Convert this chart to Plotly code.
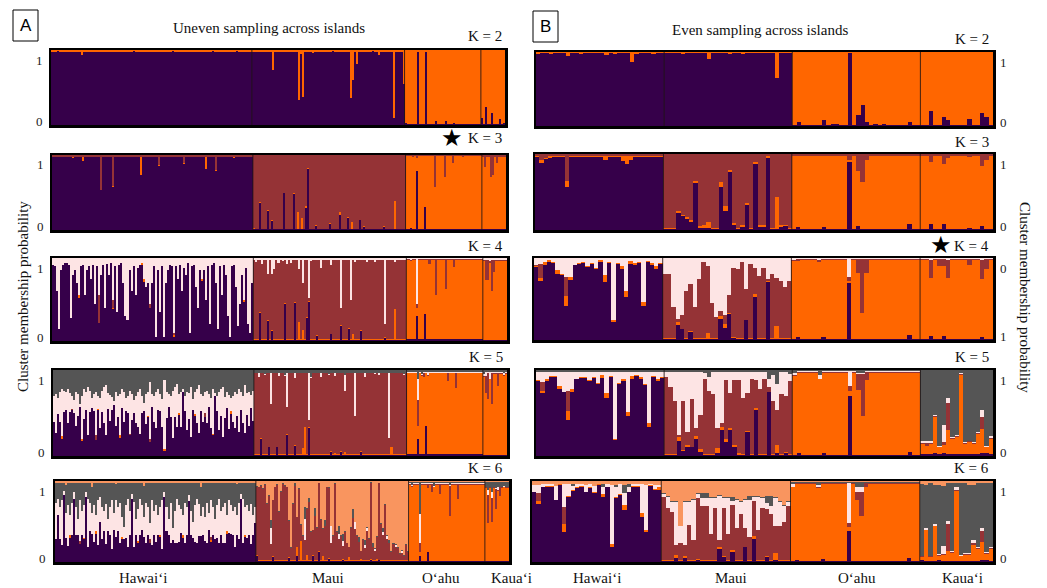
import plotly.graph_objects as go

W, H = 1047, 588

COLORS = {"purple": "#36004A", "orange": "#FF6600", "brown": "#953336",
          "pink": "#FDE4E4", "grey": "#555555", "salmon": "#F9955F"}
STACK_ORDER = ["purple", "orange", "brown", "pink", "grey", "salmon"]

ISLANDS = ["Hawai‘i", "Maui", "O‘ahu", "Kaua‘i"]
A_SIZES = [100, 76, 38, 12]
B_SIZES = [30, 30, 30, 17]

# Each island: (dominant cluster, {cluster: dense list of % | (background %, {individual: %})})
# ---------------- A: uneven sampling ----------------
A_K2 = [
    ("purple", {"orange": (2, {3: 1, 15: 7, 22: 3, 30: 3, 41: 1, 44: 3, 56: 3, 60: 1, 71: 3, 80: 1, 92: 1})}),
    ("purple", {"orange": (2, {10: 27, 23: 66, 24: 5, 25: 63, 30: 4, 40: 1, 45: 3, 49: 64, 50: 40, 52: 19,
                               60: 1, 63: 6, 70: 91, 75: 45})}),
    ("orange", {"purple": (2, {0: 3, 1: 2, 6: 97, 10: 98, 15: 6, 20: 5, 24: 3, 30: 2, 35: 2})}),
    ("orange", {"purple": (2, {0: 10, 2: 24, 5: 16, 9: 8, 11: 3})}),
]
A_K3 = [
    ("purple", {"orange": (1, {15: 6, 44: 24, 76: 16, 65: 2}),
                "brown": (2, {24: 46, 30: 41, 53: 13, 81: 20, 65: 10, 10: 3, 90: 3})}),
    ("brown", {"purple": (1, {0: 2, 3: 36, 7: 26, 9: 12, 15: 49, 20: 48, 26: 29, 27: 82, 31: 6, 38: 8, 43: 20,
                              47: 16, 53: 13, 55: 4, 65: 4}),
               "orange": (1, {22: 23, 24: 15, 26: 3, 43: 4, 49: 10, 70: 38})}),
    ("orange", {"purple": (2, {2: 3, 5: 79, 9: 31}),
                "brown": (1, {3: 3, 5: 4, 14: 42, 19: 29, 23: 11, 28: 3})}),
    ("orange", {"brown": (2, {1: 16, 4: 29, 5: 27, 7: 10}), "purple": (1, {})}),
]
A_K4_HAWAII_PINK = [8, 10, 40, 85, 15, 8, 6, 6, 8, 72,
                    20, 15, 30, 45, 10, 8, 45, 15, 10, 25,
                    9, 55, 10, 45, 20, 8, 60, 7, 20, 6,
                    50, 10, 65, 8, 6, 30, 70, 75, 15, 40,
                    10, 45, 12, 8, 6, 25, 35, 30, 55, 30,
                    10, 95, 15, 65, 10, 95, 30, 15, 8, 10,
                    90, 10, 25, 8, 40, 12, 20, 6, 90, 10,
                    8, 35, 60, 15, 25, 15, 50, 10, 80, 8,
                    6, 30, 85, 10, 45, 8, 20, 70, 95, 10,
                    8, 35, 82, 55, 20, 50, 12, 80, 90, 30]
A_K4 = [
    ("purple", {"pink": A_K4_HAWAII_PINK,
                "orange": (0, {13: 3, 44: 3, 45: 4, 74: 3, 95: 3, 30: 2, 60: 2}),
                "brown": (0, {23: 33, 30: 10, 48: 5, 60: 3})}),
    ("brown", {"purple": (1, {3: 34, 7: 24, 9: 12, 15: 45, 20: 46, 26: 28, 27: 47, 31: 6, 38: 8, 43: 18, 47: 15,
                              53: 12, 65: 4}),
               "orange": (1, {22: 22, 24: 12, 49: 8, 70: 37}),
               "pink": (2, {1: 5, 4: 7, 7: 19, 9: 19, 10: 13, 12: 6, 14: 4, 16: 7, 18: 6, 22: 13, 24: 30, 27: 48,
                            28: 4, 33: 12, 38: 8, 43: 60, 48: 50, 50: 5, 56: 5, 60: 5, 65: 80, 70: 5})}),
    ("orange", {"purple": (2, {5: 30, 9: 33}),
                "brown": (1, {5: 5, 11: 6, 14: 44, 19: 36, 23: 10}),
                "pink": (1, {2: 3, 5: 55})}),
    ("orange", {"brown": (2, {1: 25, 2: 24, 4: 38, 5: 15}), "pink": (2, {3: 4}), "purple": (1, {})}),
]
A_K5_HAWAII_GREY = [30, 28, 33, 25, 22, 24, 26, 22, 27, 30,
                    35, 25, 28, 40, 30, 22, 26, 20, 24, 32,
                    28, 26, 30, 33, 24, 20, 18, 27, 29, 31,
                    36, 25, 30, 28, 22, 26, 33, 30, 24, 28,
                    35, 30, 26, 22, 30, 38, 28, 25, 14, 28,
                    30, 26, 22, 28, 34, 12, 26, 28, 30, 24,
                    20, 16, 28, 26, 22, 30, 25, 27, 20, 34,
                    26, 22, 18, 28, 30, 25, 24, 28, 33, 22,
                    27, 30, 25, 22, 20, 31, 26, 29, 33, 30,
                    25, 28, 22, 26, 30, 18, 27, 25, 29, 24]
A_K5_HAWAII_PINK = [30, 45, 18, 35, 55, 25, 20, 40, 22, 15,
                    15, 40, 25, 3, 50, 35, 20, 55, 25, 12,
                    20, 50, 15, 35, 25, 42, 58, 18, 30, 15,
                    5, 40, 25, 48, 22, 35, 15, 20, 50, 30,
                    15, 32, 40, 52, 20, 10, 35, 28, 66, 15,
                    30, 42, 25, 20, 32, 80, 30, 15, 25, 55,
                    35, 50, 22, 40, 4, 18, 45, 30, 58, 12,
                    25, 40, 55, 20, 30, 25, 38, 15, 35, 52,
                    3, 18, 45, 32, 58, 25, 18, 40, 15, 30,
                    42, 25, 50, 20, 32, 55, 25, 40, 15, 35]
A_K5 = [
    ("purple", {"grey": A_K5_HAWAII_GREY, "pink": A_K5_HAWAII_PINK,
                "orange": (0, {4: 3, 14: 3, 33: 3, 55: 2, 70: 3, 88: 3, 22: 2, 47: 2, 62: 2, 79: 2}),
                "brown": (0, {21: 5, 48: 4, 75: 5, 9: 2, 38: 2})}),
    ("brown", {"grey": (3, {5: 5, 15: 6, 28: 8, 37: 5, 45: 6, 60: 4, 74: 5}),
               "pink": (1, {2: 5, 8: 37, 12: 4, 16: 40, 20: 6, 27: 55, 33: 5, 40: 4, 45: 18, 50: 51, 55: 5,
                            62: 3, 67: 76}),
               "purple": (1, {3: 20, 7: 10, 11: 10, 16: 25, 20: 12, 27: 33, 38: 5, 43: 5, 53: 5}),
               "orange": (1, {24: 8, 25: 33, 40: 3, 45: 4, 68: 10})}),
    ("orange", {"grey": (2, {5: 10, 7: 5}), "brown": (1, {5: 30, 8: 5, 20: 10, 24: 18}),
                "pink": (1, {5: 25, 10: 4}), "purple": (2, {5: 20, 9: 35})}),
    ("orange", {"brown": (1, {1: 20, 2: 30, 4: 35, 7: 15}), "pink": (2, {1: 5, 3: 8}),
                "grey": (2, {0: 5, 10: 4}), "purple": (1, {})}),
]
A_K6_HAWAII_GREY = [25, 20, 30, 22, 10, 35, 28, 40, 25, 12,
                    30, 45, 22, 35, 28, 12, 20, 25, 32, 28,
                    40, 22, 18, 30, 35, 26, 45, 30, 22, 38,
                    20, 30, 25, 42, 55, 28, 20, 35, 14, 24,
                    45, 32, 20, 28, 38, 25, 30, 50, 22, 35,
                    28, 40, 30, 22, 12, 30, 45, 25, 55, 35,
                    20, 28, 32, 40, 25, 30, 15, 35, 48, 28,
                    20, 26, 35, 30, 42, 25, 38, 22, 30, 45,
                    28, 20, 35, 30, 25, 40, 22, 28, 35, 30,
                    38, 25, 14, 20, 30, 28, 35, 26, 40, 30]
A_K6_HAWAII_PINK = [45, 20, 40, 55, 5, 30, 50, 25, 40, 8,
                    35, 20, 50, 30, 40, 6, 60, 35, 25, 45,
                    20, 55, 30, 40, 25, 50, 15, 35, 60, 20,
                    45, 30, 50, 25, 15, 40, 60, 30, 6, 55,
                    20, 40, 45, 30, 25, 50, 35, 20, 55, 30,
                    45, 25, 35, 60, 6, 30, 20, 50, 15, 40,
                    55, 45, 30, 25, 50, 35, 8, 30, 20, 45,
                    55, 40, 25, 35, 30, 50, 20, 45, 35, 25,
                    40, 55, 30, 45, 50, 20, 40, 35, 30, 50,
                    25, 45, 6, 55, 35, 40, 30, 50, 25, 20]
A_K6_MAUI_BROWN = [84, 90, 92, 88, 93, 70, 80, 20, 69, 90,
                   93, 60, 85, 94, 92, 90, 45, 15, 70, 92,
                   37, 88, 20, 30, 25, 57, 72, 35, 30, 55,
                   40, 84, 50, 34, 42, 90, 86, 22, 30, 94,
                   35, 27, 30, 16, 35, 21, 12, 40, 52, 39,
                   30, 23, 9, 25, 15, 36, 27, 94, 16, 11,
                   27, 94, 45, 31, 68, 26, 21, 10, 20, 16,
                   15, 8, 9, 6, 19, 10]
A_K6 = [
    ("purple", {"grey": A_K6_HAWAII_GREY, "pink": A_K6_HAWAII_PINK,
                "salmon": (2, {5: 5, 18: 8, 30: 4, 44: 6, 58: 3, 72: 8, 90: 4}),
                "orange": (0, {7: 3, 20: 3, 41: 3, 63: 3, 85: 3, 14: 2, 33: 2, 52: 2, 77: 2, 94: 2}),
                "brown": (0, {12: 4, 47: 5, 77: 4})}),
    ("salmon", {"brown": A_K6_MAUI_BROWN,
                "grey": (1, {7: 10, 19: 3, 24: 15, 26: 5, 29: 10, 34: 8, 41: 10, 43: 8, 48: 12, 51: 6, 54: 6,
                             58: 5, 63: 5, 66: 4}),
                "pink": (0, {7: 20, 24: 26, 37: 20, 41: 5, 43: 6, 49: 8, 54: 4, 55: 4, 59: 3, 63: 4, 65: 4,
                             69: 3, 72: 3}),
                "purple": (1, {0: 8, 8: 6, 16: 5, 20: 8, 28: 8, 31: 12, 36: 4, 43: 3, 57: 3, 61: 2}),
                "orange": (1, {20: 10, 22: 25, 25: 8, 33: 6, 46: 5, 52: 3, 60: 3})}),
    ("orange", {"grey": (2, {1: 4, 5: 40, 12: 5, 20: 4}), "pink": (1, {5: 35}),
                "brown": (1, {5: 12, 9: 5, 11: 10, 15: 12, 20: 37, 24: 18}),
                "purple": (1, {5: 8, 9: 12}), "salmon": (1, {})}),
    ("orange", {"grey": (6, {1: 10, 3: 12, 5: 8, 9: 5}), "brown": (1, {1: 35, 3: 30, 5: 25, 7: 10}),
                "pink": (1, {1: 6, 3: 8, 6: 4}), "salmon": (1, {}), "purple": (1, {})}),
]

# ---------------- B: even sampling ----------------
B_K2 = [
    ("purple", {"orange": (2, {0: 3, 3: 3, 7: 5, 10: 3, 16: 4, 18: 3, 22: 13, 23: 3, 27: 3})}),
    ("purple", {"orange": (2, {4: 3, 10: 10, 15: 3, 18: 3, 26: 35})}),
    ("orange", {"purple": (1, {0: 2, 1: 6, 7: 8, 9: 3, 10: 3, 13: 98, 15: 15, 16: 28, 17: 6, 19: 3, 21: 3,
                               27: 5})}),
    ("orange", {"purple": (1, {0: 2, 2: 20, 3: 2, 5: 12, 6: 8, 11: 9, 14: 17, 15: 12})}),
]
B_K3 = [
    ("purple", {"brown": (2, {1: 8, 2: 5, 7: 36, 20: 2, 21: 3}),
                "orange": (2, {1: 4, 3: 3, 7: 8, 16: 6, 20: 7, 21: 10, 22: 6})}),
    ("brown", {"purple": (1, {3: 22, 4: 18, 5: 15, 6: 11, 7: 62, 8: 3, 9: 3, 10: 2, 13: 56, 14: 25, 15: 76, 16: 7,
                              18: 4, 19: 33, 21: 87, 22: 4, 23: 4, 24: 95, 27: 4, 28: 5}),
               "orange": (2, {3: 3, 7: 3, 9: 3, 10: 8, 13: 7, 14: 6, 15: 3, 19: 2, 21: 3, 26: 43})}),
    ("orange", {"brown": (2, {0: 3, 13: 8, 15: 22, 16: 37, 17: 8}),
                "purple": (1, {1: 4, 7: 4, 13: 89, 15: 5, 27: 8})}),
    ("orange", {"brown": (2, {2: 11, 5: 13, 6: 5, 11: 4, 14: 16, 15: 8}),
                "purple": (1, {2: 8, 5: 8, 11: 3, 14: 5})}),
]
B_K4_HAWAII_PINK = [9, 7, 5, 3, 5, 15, 20, 23, 23, 8, 6, 5, 10, 6, 12, 2, 21, 5, 76, 6,
                    10, 40, 4, 6, 5, 54, 4, 6, 10, 6]
B_K4_MAUI_PINK = [19, 19, 60, 74, 70, 40, 32, 60, 25, 5, 10, 55, 72, 65, 70, 45, 12, 14, 5, 38,
                  7, 12, 22, 12, 25, 20, 24, 28, 35, 28]
B_K4 = [
    ("purple", {"pink": B_K4_HAWAII_PINK,
                "orange": (1, {1: 4, 2: 3, 3: 2, 5: 4, 7: 12, 8: 4, 15: 3, 16: 8, 18: 2, 20: 3, 21: 8, 22: 3,
                               23: 2, 25: 4, 27: 2, 28: 3}),
                "brown": (0, {0: 1, 1: 17, 7: 23})}),
    ("brown", {"pink": B_K4_MAUI_PINK,
               "purple": (1, {3: 18, 4: 13, 6: 10, 13: 26, 14: 15, 15: 32, 16: 3, 19: 24, 21: 52, 24: 71}),
               "orange": (1, {3: 4, 10: 8, 13: 3, 14: 4, 21: 4, 26: 16})}),
    ("orange", {"pink": (1, {0: 2, 6: 3, 13: 23}), "brown": (2, {1: 3, 13: 5, 15: 17, 16: 66, 17: 17}),
                "purple": (1, {1: 4, 7: 4, 13: 70, 27: 6})}),
    ("orange", {"brown": (2, {2: 21, 4: 9, 5: 9, 6: 21, 11: 8, 14: 23, 15: 12}),
                "pink": (1, {2: 3, 6: 3, 14: 3}), "purple": (1, {2: 5, 5: 5, 14: 4})}),
]
B_K5_HAWAII_PINK = [10, 12, 8, 5, 5, 17, 23, 22, 20, 8, 6, 6, 10, 6, 13, 4, 25, 5, 78, 13,
                    8, 47, 5, 4, 6, 14, 60, 5, 8, 6]
B_K5_MAUI_PINK = [6, 18, 34, 74, 34, 70, 32, 66, 50, 8, 16, 26, 66, 60, 10, 25, 10, 10, 30, 25,
                  8, 10, 20, 8, 10, 30, 30, 26, 28, 8]
B_K5_KAUAI_ORANGE = [12, 10, 12, 42, 8, 10, 28, 18, 20, 92, 12, 14, 12, 24, 28, 6, 18]
B_K5 = [
    ("purple", {"grey": (2, {}), "pink": B_K5_HAWAII_PINK,
                "orange": (1, {1: 3, 2: 3, 5: 3, 7: 10, 8: 3, 15: 3, 16: 6, 20: 3, 21: 5, 22: 3, 24: 2, 26: 4,
                               28: 3}),
                "brown": (0, {1: 10, 7: 24})}),
    ("brown", {"grey": (2, {9: 3, 10: 8, 24: 10, 25: 6, 26: 16, 29: 5}), "pink": B_K5_MAUI_PINK,
               "purple": (1, {3: 18, 4: 6, 5: 10, 6: 10, 7: 20, 8: 5, 12: 4, 13: 30, 14: 16, 15: 30, 16: 10,
                              19: 28, 21: 54, 24: 74, 26: 3, 28: 4}),
               "orange": (1, {3: 4, 5: 3, 7: 3, 8: 3, 12: 5, 13: 4, 14: 4, 15: 3, 16: 3, 17: 2, 21: 2, 26: 10})}),
    ("orange", {"grey": (1, {0: 3, 6: 6, 15: 4, 16: 4}), "pink": (1, {0: 3, 6: 4, 13: 18}),
                "brown": (1, {13: 5, 15: 18, 16: 48, 17: 10}),
                "purple": (1, {1: 4, 7: 4, 13: 70, 27: 5})}),
    ("grey", {"orange": B_K5_KAUAI_ORANGE, "brown": (1, {1: 3, 5: 3, 6: 32, 14: 14}),
              "pink": (1, {0: 2, 1: 3, 2: 3, 3: 2, 5: 20, 6: 6, 9: 2, 14: 8, 16: 2}),
              "purple": (2, {3: 3, 5: 3, 9: 2, 14: 3, 15: 4})}),
]
B_K6_HAWAII_PINK = [8, 10, 3, 2, 2, 17, 0, 28, 15, 5, 4, 2, 8, 4, 8, 0, 8, 3, 73, 12,
                    12, 15, 6, 2, 2, 36, 55, 1, 5, 3]
B_K6_MAUI_SALMON = [15, 19, 25, 25, 55, 25, 25, 22, 15, 15, 15, 20, 20, 17, 20, 20, 20, 22, 25, 22,
                    19, 19, 19, 20, 19, 19, 20, 25, 30, 25]
B_K6_MAUI_PINK = [4, 13, 12, 53, 20, 53, 28, 50, 5, 10, 10, 45, 12, 55, 12, 45, 5, 35, 15, 35,
                  45, 5, 40, 12, 8, 10, 35, 30, 20, 5]
B_K6_KAUAI_ORANGE = [4, 38, 5, 43, 6, 8, 12, 10, 87, 6, 8, 8, 20, 15, 22, 7, 15]
B_K6 = [
    ("purple", {"salmon": (4, {0: 5, 1: 5, 5: 6, 12: 5, 14: 6, 18: 5, 19: 5, 21: 5, 26: 5, 28: 5, 29: 5}),
                "grey": (0, {9: 2, 16: 4, 19: 3, 21: 10, 22: 3}), "pink": B_K6_HAWAII_PINK,
                "orange": (1, {1: 3, 7: 10, 16: 4, 18: 3, 21: 6, 25: 4, 26: 3, 29: 3}),
                "brown": (0, {1: 10, 7: 21})}),
    ("brown", {"salmon": B_K6_MAUI_SALMON, "pink": B_K6_MAUI_PINK,
               "grey": (1, {9: 6, 10: 6, 16: 5, 20: 5, 24: 8, 25: 12}),
               "purple": (1, {3: 5, 5: 5, 8: 3, 13: 16, 14: 6, 16: 12, 19: 18, 21: 29, 24: 6, 26: 3}),
               "orange": (1, {3: 4, 5: 3, 13: 3, 16: 3, 21: 3, 26: 8})}),
    ("orange", {"salmon": (1, {}), "grey": (1, {0: 3, 6: 4, 15: 6, 16: 6}),
                "pink": (1, {0: 3, 6: 3, 13: 50, 15: 6, 16: 6}),
                "brown": (1, {13: 5, 15: 10, 16: 30, 17: 4}),
                "purple": (1, {1: 3, 7: 4, 13: 38, 27: 5})}),
    ("grey", {"salmon": (2, {0: 4, 1: 5, 3: 5, 4: 5, 5: 6, 11: 5, 12: 5}), "orange": B_K6_KAUAI_ORANGE,
              "brown": (1, {6: 34, 12: 3, 14: 13}),
              "pink": (1, {1: 2, 3: 2, 5: 10, 6: 4, 8: 3, 12: 3, 14: 4}),
              "purple": (1, {0: 2, 4: 2, 14: 3, 15: 3})}),
]

# panel: (column, K, islands, sizes, frame px (x0, x1, y0, y1))
PANELS = [
    ("A", 2, A_K2, A_SIZES, (51, 505, 50, 125)),
    ("A", 3, A_K3, A_SIZES, (52, 506, 155, 230)),
    ("A", 4, A_K4, A_SIZES, (52, 507, 258, 341)),
    ("A", 5, A_K5, A_SIZES, (53, 507, 370, 456)),
    ("A", 6, A_K6, A_SIZES, (55, 509, 481, 562)),
    ("B", 2, B_K2, B_SIZES, (536, 993, 52, 126)),
    ("B", 3, B_K3, B_SIZES, (535, 993, 154, 230)),
    ("B", 4, B_K4, B_SIZES, (534, 993, 258, 340)),
    ("B", 5, B_K5, B_SIZES, (536, 993, 370, 456)),
    ("B", 6, B_K6, B_SIZES, (532, 993, 481, 562)),
]


def expand(spec, n):
    if isinstance(spec, list):
        if len(spec) != n:
            raise ValueError("length %d != %d" % (len(spec), n))
        return list(spec)
    bg, spikes = spec
    return [spikes.get(i, bg) for i in range(n)]


def island_values(island, n, K):
    dom, minors = island
    clusters = STACK_ORDER[:K]
    vals = {c: [0] * n for c in clusters}
    for c, spec in minors.items():
        vals[c] = expand(spec, n)
    for i in range(n):
        s = sum(vals[c][i] for c in clusters if c != dom)
        if s > 100:
            for c in clusters:
                if c != dom:
                    vals[c][i] = vals[c][i] * 100.0 / s
            s = 100
        vals[dom][i] = 100 - s
    return vals


SERIF = "Liberation Serif"
fig = go.Figure()
layout = dict(width=W, height=H, margin=dict(l=0, r=0, t=0, b=0), paper_bgcolor="white",
              plot_bgcolor="white", barmode="stack", bargap=0, showlegend=False)
shapes, annotations = [], []


def px(x):
    return x / W


def py(y):
    return 1 - y / H


for p, (col, K, islands, sizes, (x0, x1, y0, y1)) in enumerate(PANELS):
    n_ax = p + 1
    xa = "x" if n_ax == 1 else "x%d" % n_ax
    ya = "y" if n_ax == 1 else "y%d" % n_ax
    clusters = STACK_ORDER[:K]
    full = {c: [] for c in clusters}
    for isl, n in zip(islands, sizes):
        v = island_values(isl, n, K)
        for c in clusters:
            full[c] += v[c]
    N = sum(sizes)
    xs = list(range(N))
    for c in clusters:
        fig.add_trace(go.Bar(x=xs, y=full[c], marker=dict(color=COLORS[c], line=dict(width=0)),
                             xaxis=xa, yaxis=ya, hoverinfo="skip", width=1.0))
    axkey = "" if n_ax == 1 else str(n_ax)
    layout["xaxis" + axkey] = dict(domain=[px(x0), px(x1)], range=[-0.5, N - 0.5], anchor=ya,
                                   showticklabels=False, showgrid=False, zeroline=False, ticks="",
                                   showline=True, mirror=True, linecolor="black", linewidth=2.5,
                                   fixedrange=True)
    layout["yaxis" + axkey] = dict(domain=[py(y1), py(y0)], range=[0, 100], anchor=xa,
                                   showticklabels=False, showgrid=False, zeroline=False, ticks="",
                                   showline=True, mirror=True, linecolor="black", linewidth=2.5,
                                   fixedrange=True)
    # island dividers
    b = 0
    for n in sizes[:-1]:
        b += n
        shapes.append(dict(type="line", xref=xa, yref=ya + " domain", x0=b - 0.5, x1=b - 0.5, y0=0, y1=1,
                           line=dict(color="rgba(30,20,20,0.85)", width=1)))
    # probability labels
    top_lbl, bot_lbl = ("0", "1") if (col == "B" and K == 4) else ("1", "0")
    if col == "A":
        lx = x0 - 12
    else:
        lx = x1 + 10
    annotations.append(dict(x=px(lx), y=py(y0 + 10), xref="paper", yref="paper", text=top_lbl,
                            showarrow=False, font=dict(family=SERIF, size=13, color="#222"),
                            xanchor="center", yanchor="middle"))
    annotations.append(dict(x=px(lx), y=py(y1 - 4), xref="paper", yref="paper", text=bot_lbl,
                            showarrow=False, font=dict(family=SERIF, size=13, color="#222"),
                            xanchor="center", yanchor="middle"))

# K labels
K_LABELS = [("A", 2, 504, 36), ("A", 3, 504, 138), ("A", 4, 505, 246), ("A", 5, 505, 357), ("A", 6, 505, 468),
            ("B", 2, 991, 39), ("B", 3, 991, 142), ("B", 4, 991, 246), ("B", 5, 991, 357), ("B", 6, 991, 468)]
for col, K, x, y in K_LABELS:
    annotations.append(dict(x=px(x), y=py(y), xref="paper", yref="paper", text="K = %d" % K,
                            showarrow=False, font=dict(family=SERIF, size=15, color="#111"),
                            xanchor="right", yanchor="middle"))
# stars marking the best K
for x, y in [(452, 138), (941, 245)]:
    annotations.append(dict(x=px(x), y=py(y), xref="paper", yref="paper", text="★", showarrow=False,
                            font=dict(family="DejaVu Sans", size=24, color="black"),
                            xanchor="center", yanchor="middle"))

# titles
annotations.append(dict(x=px(269), y=py(28), xref="paper", yref="paper", text="Uneven sampling across islands",
                        showarrow=False, font=dict(family=SERIF, size=15, color="#111"),
                        xanchor="center", yanchor="middle"))
annotations.append(dict(x=px(760), y=py(30), xref="paper", yref="paper", text="Even sampling across islands",
                        showarrow=False, font=dict(family=SERIF, size=15, color="#111"),
                        xanchor="center", yanchor="middle"))
# boxed panel letters
for letter, bx0, by0 in [("A", 13, 10), ("B", 533, 11)]:
    shapes.append(dict(type="rect", xref="paper", yref="paper", x0=px(bx0), x1=px(bx0 + 25),
                       y0=py(by0 + 31), y1=py(by0), line=dict(color="black", width=1)))
    annotations.append(dict(x=px(bx0 + 12.5), y=py(by0 + 15.5), xref="paper", yref="paper", text=letter,
                            showarrow=False, font=dict(family="Liberation Sans", size=17, color="black"),
                            xanchor="center", yanchor="middle"))

# axis titles
annotations.append(dict(x=px(23), y=py(297), xref="paper", yref="paper", text="Cluster membership probability",
                        showarrow=False, textangle=-90, font=dict(family=SERIF, size=15, color="#111"),
                        xanchor="center", yanchor="middle"))
annotations.append(dict(x=px(1025), y=py(297), xref="paper", yref="paper", text="Cluster membership probability",
                        showarrow=False, textangle=90, font=dict(family=SERIF, size=15, color="#111"),
                        xanchor="center", yanchor="middle"))

# island labels
A_LABEL_X = [143, 328, 441, 511]
B_LABEL_X = [597, 731, 857, 962]
for name, ax_, bx_ in zip(ISLANDS, A_LABEL_X, B_LABEL_X):
    for xx in (ax_, bx_):
        annotations.append(dict(x=px(xx), y=py(578), xref="paper", yref="paper", text=name, showarrow=False,
                                font=dict(family=SERIF, size=15, color="#111"),
                                xanchor="center", yanchor="middle"))

layout["shapes"] = shapes
layout["annotations"] = annotations
fig.update_layout(**layout)
fig.write_html("out.html", config={"displayModeBar": False, "staticPlot": True},
               post_script="document.body.style.margin='0px';document.body.style.overflow='hidden';")
